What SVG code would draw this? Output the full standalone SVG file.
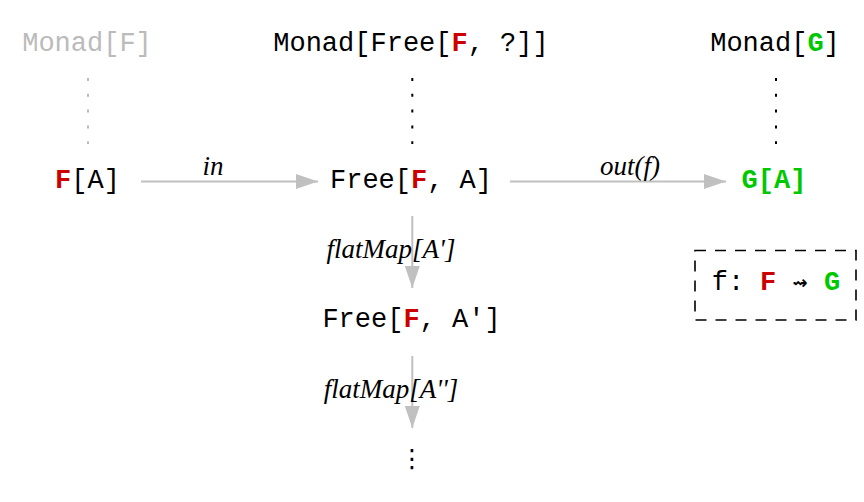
<svg xmlns="http://www.w3.org/2000/svg" width="864" height="502" viewBox="0 0 864 502">
<style>
.mono{font-family:"Liberation Mono","DejaVu Sans Mono",monospace;font-size:27px;fill:#000;text-anchor:middle}
.lbl{font-family:"Liberation Serif","DejaVu Serif",serif;font-style:italic;font-size:27px;fill:#000;text-anchor:middle}
.r{fill:#cc0000;font-weight:bold}
.g{fill:#00c800;font-weight:bold}
.edge{stroke:#c0c0c0;stroke-width:2;fill:none}
.dot{stroke:#000;stroke-width:2;stroke-dasharray:3 12.8;fill:none}
</style>
<defs>
<marker id="ah" markerUnits="userSpaceOnUse" markerWidth="23" markerHeight="16" refX="22" refY="7.5" orient="auto">
<path d="M0,0 L22,7.5 L0,15 Z" fill="#c0c0c0"/>
</marker>
</defs>
<g id="monadF"><text class="mono" x="87" y="51" style="fill:#bbbbbb">Monad[F]</text></g>
<g id="monadFree"><text class="mono" x="411" y="51">Monad[Free[<tspan class="r">F</tspan>, ?]]</text></g>
<g id="monadG"><text class="mono" x="775" y="51">Monad[<tspan class="g">G</tspan>]</text></g>
<g id="FA"><text class="mono" x="87.5" y="188"><tspan class="r">F</tspan>[A]</text></g>
<g id="FreeFA"><text class="mono" x="411" y="188">Free[<tspan class="r">F</tspan>, A]</text></g>
<g id="GA"><text class="mono g" x="774" y="188">G[A]</text></g>
<g id="FreeFA2"><text class="mono" x="411.5" y="327">Free[<tspan class="r">F</tspan>, A']</text></g>
<g id="more"><text x="412" y="467" style="font-family:'DejaVu Sans',sans-serif;font-size:25px;text-anchor:middle">⋮</text></g>
<g id="nat">
<rect x="695" y="250.5" width="161" height="69.5" fill="none" stroke="#000" stroke-width="1.6" stroke-dasharray="11 9"/>
<text class="mono" x="728" y="290">f:</text>
<text class="mono r" x="768" y="290">F</text>
<text x="800" y="289" style="font-family:'DejaVu Sans',sans-serif;font-size:18px;font-weight:bold;text-anchor:middle">⇝</text>
<text class="mono g" x="832" y="290">G</text>
</g>
<g id="connectors">
<line class="dot" x1="88" y1="78" x2="88" y2="144" style="stroke:#bbbbbb"/>
<line class="dot" x1="412.3" y1="78" x2="412.3" y2="144"/>
<line class="dot" x1="776" y1="78" x2="776" y2="144"/>
<line class="edge" x1="141" y1="181.5" x2="318" y2="181.5" marker-end="url(#ah)"/>
<text class="lbl" x="213" y="175">in</text>
<line class="edge" x1="510" y1="181.5" x2="726" y2="181.5" marker-end="url(#ah)"/>
<text class="lbl" x="630" y="175">out(f)</text>
<line class="edge" x1="412.3" y1="216" x2="412.3" y2="288" marker-end="url(#ah)"/>
<text class="lbl" x="391" y="258">flatMap[A']</text>
<line class="edge" x1="412.3" y1="356" x2="412.3" y2="428" marker-end="url(#ah)"/>
<text class="lbl" x="391" y="398">flatMap[A'']</text>
</g>
</svg>
